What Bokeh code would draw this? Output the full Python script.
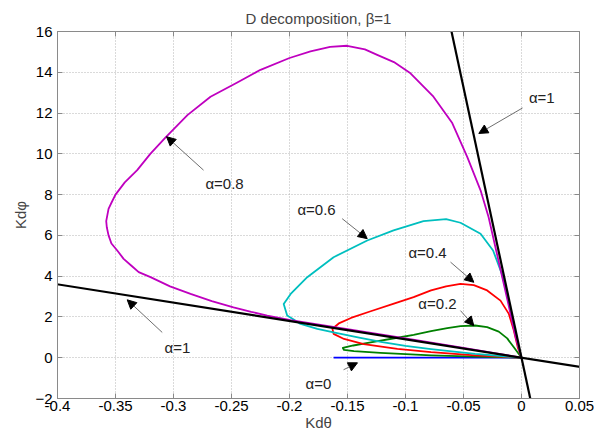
from bokeh.plotting import figure
from bokeh.models import Range1d, FixedTicker, LinearAxis, Label, Arrow, NormalHead
from bokeh.embed import file_html
from bokeh.resources import INLINE

# ---- data ----
x_ticks = [-0.4, -0.35, -0.3, -0.25, -0.2, -0.15, -0.1, -0.05, 0, 0.05]
x_tick_labels = ["-0.4", "-0.35", "-0.3", "-0.25", "-0.2", "-0.15", "-0.1", "-0.05", "0", "0.05"]
y_ticks = [-2, 0, 2, 4, 6, 8, 10, 12, 14, 16]

a0_x = [-0.162, 0.0]
a0_y = [0.0, 0.0]

a02_x = [0, -0.0023, -0.0066, -0.0123, -0.0196, -0.0296, -0.04, -0.0526, -0.064, -0.078, -0.093,
         -0.107, -0.13, -0.145, -0.154, -0.153, -0.1445, -0.1216, -0.078, -0.04, 0]
a02_y = [0, 0.18, 0.51, 0.95, 1.28, 1.5, 1.58, 1.55, 1.45, 1.3, 1.12,
         0.98, 0.75, 0.6, 0.48, 0.38, 0.32, 0.24, 0.12, 0.05, 0]

a04_x = [0, -0.0032, -0.0066, -0.0109, -0.0181, -0.0296, -0.0411, -0.0526, -0.065, -0.078, -0.093,
         -0.11, -0.13, -0.147, -0.157, -0.163, -0.162, -0.153, -0.136, -0.107, -0.078, -0.04, 0]
a04_y = [0, 0.51, 1.33, 2.15, 2.8, 3.3, 3.56, 3.62, 3.5, 3.3, 2.97,
         2.65, 2.28, 1.95, 1.7, 1.42, 1.17, 0.92, 0.67, 0.43, 0.27, 0.12, 0]

a06_x = [0, -0.002, -0.006, -0.011, -0.017, -0.0245, -0.0353, -0.0526, -0.065, -0.0845, -0.1103,
         -0.133, -0.162, -0.1847, -0.199, -0.205, -0.202, -0.1905, -0.176, -0.162, -0.14, -0.12,
         -0.1, -0.078, -0.04, 0]
a06_y = [0, 0.4, 1.49, 2.8, 4.12, 5.26, 6.08, 6.62, 6.8, 6.7, 6.25,
         5.75, 4.93, 3.95, 3.13, 2.64, 2.07, 1.66, 1.41, 1.24, 0.98, 0.76,
         0.58, 0.42, 0.19, 0]

a08_x = [0, -0.005, -0.012, -0.02, -0.0284, -0.0353, -0.0468, -0.0597, -0.0759, -0.0957, -0.11,
         -0.1244, -0.135, -0.1503, -0.165, -0.1819, -0.2, -0.225, -0.245, -0.2681, -0.288,
         -0.307, -0.32, -0.3313, -0.342, -0.35, -0.3535, -0.356, -0.358, -0.3575, -0.356,
         -0.3535, -0.3485, -0.343, -0.336, -0.33, -0.3198, -0.303, -0.2853, -0.267, -0.2483,
         -0.233, -0.2192, -0.199, -0.15, -0.1, -0.05, 0]
a08_y = [0, 1.0, 2.8, 4.8, 6.9, 8.21, 9.85, 11.51, 12.8, 13.95, 14.5,
         14.85, 15.12, 15.3, 15.25, 15.02, 14.7, 14.12, 13.5, 12.8, 11.9,
         10.8, 10.0, 9.2, 8.6, 8.0, 7.6, 7.3, 6.7, 6.4, 6.0,
         5.6, 5.26, 4.85, 4.5, 4.2, 3.95, 3.5, 3.13, 2.78, 2.47,
         2.25, 2.07, 1.84, 1.4, 0.95, 0.48, 0]

a1_steep_x = [-0.066, 0.0083]
a1_steep_y = [17.5, -2.2]
a1_flat_x = [-0.42, 0.06]
a1_flat_y = [3.78, -0.54]

# annotations: label text, label position, arrow tail, arrow tip (data units)
ann_text = ["α=1", "α=1", "α=0.8", "α=0.6", "α=0.4", "α=0.2", "α=0"]
ann_pos = [(0.0175, 12.74), (-0.2966, 0.49), (-0.256, 8.56), (-0.1767, 7.28),
           (-0.081, 5.18), (-0.0724, 2.67), (-0.175, -1.28)]
ann_tail = [(0.0009, 12.25), (-0.3097, 1.24), (-0.2741, 9.2), (-0.1546, 6.82),
            (-0.0612, 4.69), (-0.0526, 2.31), (-0.1534, -0.59)]
ann_tip = [(-0.0368, 11.0), (-0.3399, 2.84), (-0.306, 10.84), (-0.133, 5.84),
           (-0.0411, 3.70), (-0.0411, 1.57), (-0.1414, -0.25)]

FONT = "Liberation Sans"
GRAY = "#8a8a8a"
FS = "15px"

p = figure(width=600, height=439, output_backend="svg", toolbar_location=None,
           x_range=Range1d(-0.4, 0.05), y_range=Range1d(-2, 16),
           min_border_left=57, min_border_right=21, min_border_top=31, min_border_bottom=41,
           title="D decomposition, β=1")
p.title.align = "center"
p.title.text_font = FONT
p.title.text_font_size = FS
p.title.text_font_style = "normal"
p.title.standoff = 10
p.outline_line_color = GRAY
p.background_fill_color = "white"
p.border_fill_color = "white"

for ax in p.xaxis:
    ax.ticker = FixedTicker(ticks=x_ticks)
    ax.major_label_overrides = {t: s for t, s in zip(x_ticks, x_tick_labels)}
    ax.axis_label = "Kdθ"
    ax.major_label_standoff = 2
    ax.axis_label_standoff = 0
for ax in p.yaxis:
    ax.ticker = FixedTicker(ticks=y_ticks)
    ax.axis_label = "Kdφ"
    ax.major_label_standoff = 5
    ax.axis_label_standoff = 3
for ax in list(p.xaxis) + list(p.yaxis):
    ax.major_tick_in = 5
    ax.major_tick_out = 0
    ax.minor_tick_line_color = None
    ax.axis_line_color = GRAY
    ax.major_tick_line_color = GRAY
    ax.major_label_text_font = FONT
    ax.major_label_text_font_size = FS
    ax.major_label_text_color = "black"
    ax.axis_label_text_font = FONT
    ax.axis_label_text_font_size = FS
    ax.axis_label_text_font_style = "normal"

top = LinearAxis(ticker=FixedTicker(ticks=x_ticks), major_label_text_font_size="1px",
                 major_label_text_color=None,
                 major_tick_in=5, major_tick_out=0, minor_tick_line_color=None,
                 axis_line_color=GRAY, major_tick_line_color=GRAY, major_label_standoff=0)
right = LinearAxis(ticker=FixedTicker(ticks=y_ticks), major_label_text_font_size="1px",
                   major_label_text_color=None,
                   major_tick_in=5, major_tick_out=0, minor_tick_line_color=None,
                   axis_line_color=GRAY, major_tick_line_color=GRAY, major_label_standoff=0)
p.add_layout(top, "above")
p.add_layout(right, "right")

p.xgrid.ticker = FixedTicker(ticks=x_ticks)
p.ygrid.ticker = FixedTicker(ticks=y_ticks)
for g in (p.xgrid, p.ygrid):
    g.grid_line_color = "#b4b4b4"
    g.grid_line_dash = "1 2"
    g.grid_line_width = 1

LW = 1.8
p.line(a0_x, a0_y, line_color="#0000ff", line_width=LW)
p.line(a02_x, a02_y, line_color="#008000", line_width=LW, line_join="round")
p.line(a04_x, a04_y, line_color="#ff0000", line_width=LW, line_join="round")
p.line(a06_x, a06_y, line_color="#00bfbf", line_width=LW, line_join="round")
p.line(a08_x, a08_y, line_color="#bf00bf", line_width=LW, line_join="round")
p.line(a1_steep_x, a1_steep_y, line_color="black", line_width=2.2)
p.line(a1_flat_x, a1_flat_y, line_color="black", line_width=2.2)

for txt, pos, tail, tip in zip(ann_text, ann_pos, ann_tail, ann_tip):
    p.add_layout(Arrow(x_start=tail[0], y_start=tail[1], x_end=tip[0], y_end=tip[1],
                       line_color="#6e6e6e", line_width=1,
                       end=NormalHead(size=9, fill_color="black", line_color="black")))
    p.add_layout(Label(x=pos[0], y=pos[1], text=txt, text_align="center",
                       text_baseline="middle", text_font=FONT, text_font_size=FS,
                       text_color="#222222"))

open("out.html", "w").write(file_html(p, INLINE))
